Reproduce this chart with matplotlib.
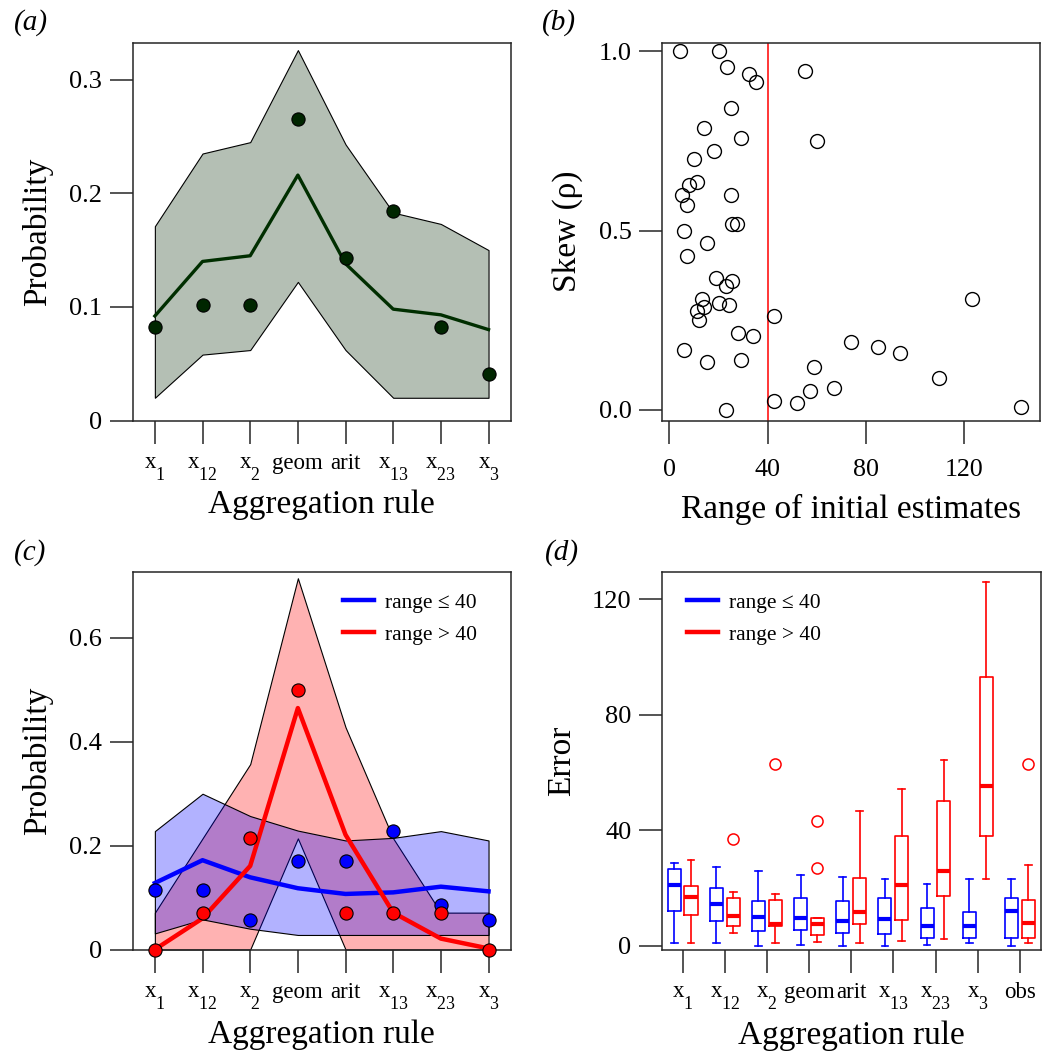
import numpy as np
import matplotlib
matplotlib.use("Agg")
import matplotlib.pyplot as plt
import matplotlib._mathtext as mathtext_core
from matplotlib.lines import Line2D

plt.rcParams.update({
    "font.family": ["Liberation Serif", "DejaVu Serif"],
    "mathtext.fontset": "custom",
    "mathtext.rm": "Liberation Serif",
    "mathtext.it": "Liberation Serif:italic",
    "mathtext.bf": "Liberation Serif:bold",
})
# bigger, lower subscripts on the rule names
mathtext_core.SHRINK_FACTOR = 0.78
mathtext_core.FontConstantsBase.sub1 = 1.1

# aggregation rules
rules = [r"$\mathregular{x_{1}}$", r"$\mathregular{x_{12}}$", r"$\mathregular{x_{2}}$",
         "geom", "arit", r"$\mathregular{x_{13}}$", r"$\mathregular{x_{23}}$",
         r"$\mathregular{x_{3}}$"]
rules_obs = rules + ["obs"]

# (a) all groups
a_obs = [0.082, 0.102, 0.102, 0.265, 0.143, 0.184, 0.082, 0.041]
a_mean = [0.092, 0.140, 0.145, 0.216, 0.138, 0.098, 0.093, 0.080]
a_upper = [0.171, 0.235, 0.245, 0.326, 0.243, 0.183, 0.173, 0.150]
a_lower = [0.020, 0.058, 0.062, 0.122, 0.062, 0.020, 0.020, 0.020]

# (b) skew vs range of initial estimates
b_range = [4.5, 20.2, 23.5, 32.2, 35.3, 55.1, 25.1, 14.1, 29.0, 60.1,
           18.2, 10.0, 11.4, 8.1, 5.2, 25.1, 7.2, 25.5, 27.4, 6.0,
           15.3, 7.2, 18.9, 25.4, 23.2, 13.2, 20.2, 24.3, 14.3, 11.1,
           12.2, 42.5, 123.1, 28.1, 33.9, 74.0, 85.0, 93.9, 6.0, 15.3,
           29.0, 59.0, 109.8, 66.9, 57.1, 42.5, 52.0, 23.2, 142.9]
b_skew = [1.000, 1.000, 0.956, 0.936, 0.915, 0.945, 0.841, 0.786, 0.759, 0.751,
          0.721, 0.700, 0.636, 0.626, 0.600, 0.600, 0.572, 0.519, 0.518, 0.499,
          0.465, 0.429, 0.368, 0.359, 0.346, 0.309, 0.299, 0.291, 0.287, 0.275,
          0.251, 0.262, 0.309, 0.214, 0.206, 0.189, 0.176, 0.159, 0.166, 0.133,
          0.138, 0.118, 0.090, 0.060, 0.052, 0.024, 0.019, 0.000, 0.007]
range_cut = 40

# (c) split by range
c_obs_small = [0.114, 0.114, 0.057, 0.171, 0.171, 0.229, 0.086, 0.057]
c_obs_large = [0.0, 0.071, 0.214, 0.500, 0.071, 0.071, 0.071, 0.0]
c_mean_small = [0.128, 0.172, 0.139, 0.118, 0.107, 0.110, 0.121, 0.112]
c_mean_large = [0.0, 0.060, 0.161, 0.465, 0.221, 0.071, 0.021, 0.002]
c_upper_small = [0.228, 0.300, 0.257, 0.229, 0.210, 0.215, 0.228, 0.210]
c_lower_small = [0.031, 0.058, 0.040, 0.028, 0.028, 0.028, 0.028, 0.028]
c_upper_large = [0.071, 0.214, 0.357, 0.715, 0.428, 0.214, 0.071, 0.071]
c_lower_large = [0.0, 0.0, 0.0, 0.214, 0.0, 0.0, 0.0, 0.0]

# (d) error box stats per rule
small_whislo = [0.8, 0.8, 0.0, 0.3, 0.1, 0.0, 0.3, 0.8, 0.0]
small_q1 = [12.0, 8.5, 5.2, 5.3, 4.5, 4.2, 2.8, 2.8, 2.8]
small_med = [21.0, 14.4, 9.9, 9.6, 8.5, 9.4, 6.9, 6.9, 12.0]
small_q3 = [26.6, 20.1, 15.6, 16.4, 15.5, 16.6, 13.1, 11.7, 16.7]
small_whishi = [28.8, 27.4, 26.0, 24.4, 23.9, 23.0, 21.5, 23.0, 23.0]
large_whislo = [0.8, 4.4, 0.8, 1.3, 0.8, 1.7, 2.2, 23.0, 0.8]
large_q1 = [10.8, 6.7, 6.7, 3.9, 7.7, 8.8, 17.3, 37.9, 2.8]
large_med = [16.8, 10.2, 7.7, 7.4, 11.7, 21.0, 26.0, 55.3, 7.9]
large_q3 = [20.8, 16.4, 15.8, 9.6, 23.6, 37.9, 50.3, 92.9, 15.8]
large_whishi = [29.7, 18.5, 17.9, 9.6, 46.6, 54.4, 64.4, 125.9, 28.0]
large_fliers = [[], [36.9], [62.8], [27.1, 43.1], [], [], [], [], [62.8]]

legend_labels = [u"range \u2264 40", "range > 40"]

FRAME = "#262626"


def style_axes(ax):
    for s in ax.spines.values():
        s.set_linewidth(1.1)
        s.set_color(FRAME)
    ax.tick_params(direction="out", length=16.3, width=1.1, color=FRAME,
                   labelsize=19)
    ax.tick_params(axis="y", pad=6)


def rule_ticks(ax, labels, pad=18.8):
    ax.set_xticks(np.arange(1, len(labels) + 1))
    ax.tick_params(axis="x", pad=pad)
    ax.set_xticklabels(labels, fontsize=16.5)
    for t in ax.get_xticklabels():
        t.set_va("baseline")


def labels(ax, xlabel, ylabel, xl_y=-0.245, yl_x=-0.229):
    ax.set_xlabel(xlabel, fontsize=24)
    ax.set_ylabel(ylabel, fontsize=24)
    ax.xaxis.label.set_va("baseline")
    ax.yaxis.label.set_va("baseline")
    ax.xaxis.set_label_coords(0.5, xl_y)
    ax.yaxis.set_label_coords(yl_x, 0.5)


def range_legend(ax, handles, x0):
    ax.legend(handles, legend_labels, loc="upper left", bbox_to_anchor=(x0, 0.944),
              frameon=False, fontsize=15.5, handlelength=1.45, handletextpad=0.5,
              labelspacing=0.55, borderpad=0, borderaxespad=0)


fig = plt.figure(figsize=(10.47, 10.55), dpi=100)
W, H = 1047.0, 1055.0
aw, ah = 378 / W, 378 / H
left1, left2 = 132.7 / W, 661.7 / W
bot1, bot2 = (H - 420.5) / H, (H - 949.5) / H

ax_a = fig.add_axes([left1, bot1, aw, ah])
ax_b = fig.add_axes([left2, bot1, aw, ah])
ax_c = fig.add_axes([left1, bot2, aw, ah])
ax_d = fig.add_axes([left2, bot2, 379 / W, ah])

x8 = np.arange(1, 9)

# ---- (a) ----
ax = ax_a
style_axes(ax)
ax.fill_between(x8, a_lower, a_upper, facecolor="#b4bfb4", edgecolor="black",
                linewidth=0.8, zorder=1)
ax.plot(x8, a_mean, color="#002e00", lw=2.4, zorder=2)
ax.plot(x8, a_obs, "o", ms=9.5, mfc="#002600", mec="black", mew=0.8,
        zorder=3, clip_on=False)
ax.set_xlim(0.535, 8.465)
ax.set_ylim(0, 0.3327)
ax.set_yticks([0, 0.1, 0.2, 0.3])
ax.set_yticklabels(["0", "0.1", "0.2", "0.3"])
rule_ticks(ax, rules)
labels(ax, "Aggregation rule", "Probability")

# ---- (b) ----
ax = ax_b
style_axes(ax)
ax.axvline(range_cut, color="red", lw=1.1, zorder=1)
ax.plot(b_range, b_skew, "o", ms=10, mfc="none", mec="black", mew=1.0,
        zorder=2, clip_on=False)
ax.set_xlim(-3.1, 150.6)
ax.set_ylim(-0.030, 1.025)
ax.set_xticks([0, 40, 80, 120])
ax.set_yticks([0, 0.5, 1.0])
ax.set_yticklabels(["0.0", "0.5", "1.0"])
ax.tick_params(axis="y", pad=5.3)
ax.tick_params(axis="x", pad=24, labelsize=18.7)
for t in ax.get_xticklabels():
    t.set_va("baseline")
labels(ax, "Range of initial estimates", u"Skew (\u03c1)", xl_y=-0.257, yl_x=-0.227)

# ---- (c) ----
ax = ax_c
style_axes(ax)
ax.fill_between(x8, c_lower_large, c_upper_large, facecolor=(1, 0, 0, 0.3),
                edgecolor="black", linewidth=0.8, zorder=1)
ax.fill_between(x8, c_lower_small, c_upper_small, facecolor=(0, 0, 1, 0.3),
                edgecolor="black", linewidth=0.8, zorder=1)
ln_small, = ax.plot(x8, c_mean_small, color="blue", lw=3.2, zorder=2)
ln_large, = ax.plot(x8, c_mean_large, color="red", lw=3.2, zorder=2)
ax.plot(x8, c_obs_small, "o", ms=9.5, mfc="blue", mec="black", mew=0.8,
        zorder=3, clip_on=False)
ax.plot(x8, c_obs_large, "o", ms=9.5, mfc="red", mec="black", mew=0.8,
        zorder=4, clip_on=False)
ax.set_xlim(0.535, 8.465)
ax.set_ylim(0, 0.728)
ax.set_yticks([0, 0.2, 0.4, 0.6])
ax.set_yticklabels(["0", "0.2", "0.4", "0.6"])
rule_ticks(ax, rules)
labels(ax, "Aggregation rule", "Probability", xl_y=-0.248)
range_legend(ax, [ln_small, ln_large], 0.556)

# ---- (d) ----
ax = ax_d
style_axes(ax)
x9 = np.arange(1, 10)
groups = [
    (-0.2, "blue", small_whislo, small_q1, small_med, small_q3, small_whishi,
     [[] for _ in x9]),
    (0.2, "red", large_whislo, large_q1, large_med, large_q3, large_whishi,
     large_fliers),
]
for off, col, wlo, q1, med, q3, whi, fl in groups:
    stats = [dict(whislo=wlo[i], q1=q1[i], med=med[i], q3=q3[i], whishi=whi[i],
                  fliers=fl[i]) for i in range(len(x9))]
    ax.bxp(stats, positions=x9 + off, widths=0.31, capwidths=0.16,
           manage_ticks=False,
           boxprops=dict(color=col, lw=1.2),
           whiskerprops=dict(color=col, lw=1.2),
           capprops=dict(color=col, lw=1.2),
           medianprops=dict(color=col, lw=3.0, solid_capstyle="butt"),
           flierprops=dict(marker="o", ms=8, mfc="none", mec=col, mew=1.1))
ax.set_xlim(0.505, 9.495)
ax.set_ylim(-1.28, 129.6)
ax.set_yticks([0, 40, 80, 120])
ax.tick_params(axis="y", pad=5.5)
rule_ticks(ax, rules_obs)
labels(ax, "Aggregation rule", "Error", xl_y=-0.25, yl_x=-0.242)
proxies = [Line2D([], [], color="blue", lw=3.2), Line2D([], [], color="red", lw=3.2)]
range_legend(ax, proxies, 0.067)

# panel tags
for tx, ty, tag in [(14, 23, "(a)"), (542, 23, "(b)"), (14, 553, "(c)"), (545, 553, "(d)")]:
    fig.text(tx / W, 1 - ty / H, tag, fontsize=21, style="italic", va="center", ha="left")

fig.savefig("out.png", dpi=100)
